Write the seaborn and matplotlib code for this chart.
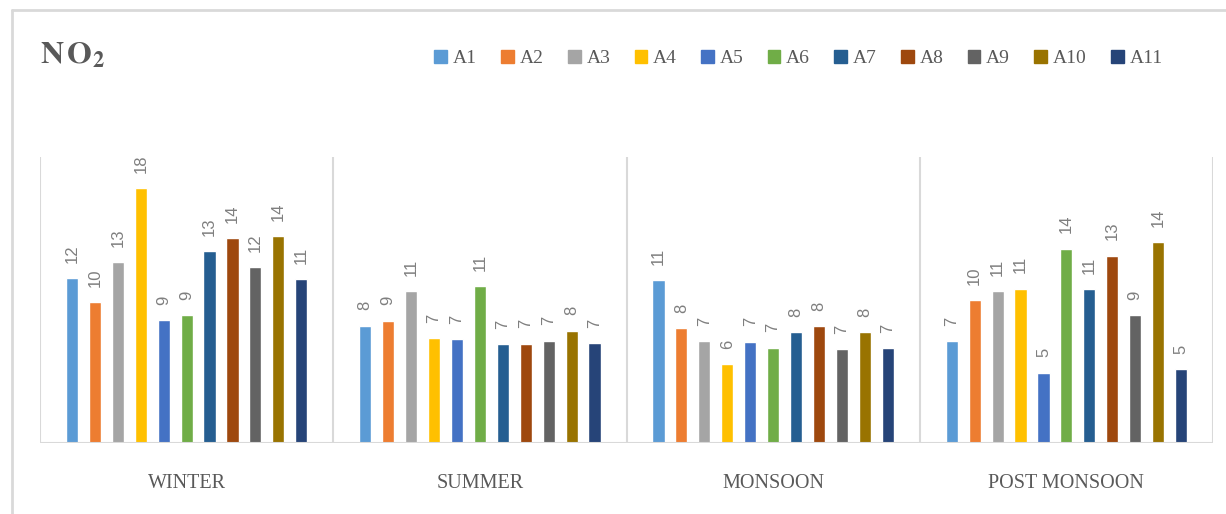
import pandas as pd
import seaborn as sns
import matplotlib.pyplot as plt
from matplotlib.lines import Line2D

# values (NO2 by season and site)
seasons = ['WINTER', 'SUMMER', 'MONSOON', 'POST MONSOON']
stations = ['A1', 'A2', 'A3', 'A4', 'A5', 'A6', 'A7', 'A8', 'A9', 'A10', 'A11']
winter = [11.55, 9.85, 12.65, 17.82, 8.61, 8.93, 13.40, 14.32, 12.30, 14.46, 11.44]
summer = [8.21, 8.56, 10.60, 7.32, 7.25, 10.95, 6.90, 6.95, 7.16, 7.86, 6.97]
monsoon = [11.37, 8.02, 7.11, 5.54, 7.09, 6.67, 7.74, 8.18, 6.55, 7.74, 6.62]
post_monsoon = [7.11, 10.00, 10.60, 10.80, 4.93, 13.60, 10.76, 13.10, 8.95, 14.06, 5.14]
colors = ['#5B9BD5', '#ED7D31', '#A5A5A5', '#FFC000', '#4472C4', '#70AD47',
          '#255E91', '#9E480E', '#636363', '#997300', '#264478']

rows = []
for season, vals in zip(seasons, [winter, summer, monsoon, post_monsoon]):
    for st, v in zip(stations, vals):
        rows.append({'season': season, 'station': st, 'value': v})
df = pd.DataFrame(rows)

sns.set_style('white')
plt.rcParams['mathtext.fontset'] = 'stix'
text_col = '#595959'

fig = plt.figure(figsize=(12.26, 5.14), dpi=100)
ax = fig.add_axes([40 / 1226, 1 - 443 / 514, 1173 / 1226, 286 / 514])

sns.barplot(data=df, x='season', y='value', hue='station', order=seasons,
            hue_order=stations, palette=colors, width=0.86, gap=0.47,
            errorbar=None, saturation=1, ax=ax, legend=False)

for cont in ax.containers:
    ax.bar_label(cont, fmt='%.0f', rotation=90, padding=11, color='#7f7f7f',
                 fontsize=12, family='Liberation Sans')

ax.set_ylim(0, 20)
ax.set_xlim(-0.5, 3.5)
ax.set_yticks([])
ax.set_xlabel('')
ax.set_ylabel('')
for s in ax.spines.values():
    s.set_visible(False)
for xb in [-0.5, 0.5, 1.5, 2.5, 3.5]:
    ax.axvline(xb, color='#d9d9d9', lw=1.5, zorder=0)
ax.axhline(0, color='#d9d9d9', lw=1.5, zorder=3)
ax.tick_params(axis='x', length=0, pad=22)
for lab in ax.get_xticklabels():
    lab.set_family('Liberation Serif')
    lab.set_fontsize(14.5)
    lab.set_color(text_col)

# legend with square handles
handles = [plt.Rectangle((0, 0), 1, 1, color=c) for c in colors]
fig.legend(handles, stations, loc='center left', bbox_to_anchor=(0.340, 0.886),
           ncol=11, frameon=False, handlelength=0.65, handleheight=0.65,
           handletextpad=0.3, columnspacing=1.25,
           prop={'family': 'Liberation Serif', 'size': 14}, labelcolor=text_col)

fig.text(40 / 1226, 1 - 63 / 514, r'$\mathbf{N\,O_2}$', fontsize=23, color=text_col,
         va='baseline', ha='left')

# outer chart frame
fig.add_artist(Line2D([12 / 1226, 12 / 1226], [0, 1 - 10 / 514], color='#d9d9d9',
                      lw=2, transform=fig.transFigure))
fig.add_artist(Line2D([12 / 1226, 1], [1 - 10 / 514, 1 - 10 / 514], color='#d9d9d9',
                      lw=2, transform=fig.transFigure))

fig.savefig('out.png', dpi=100)
